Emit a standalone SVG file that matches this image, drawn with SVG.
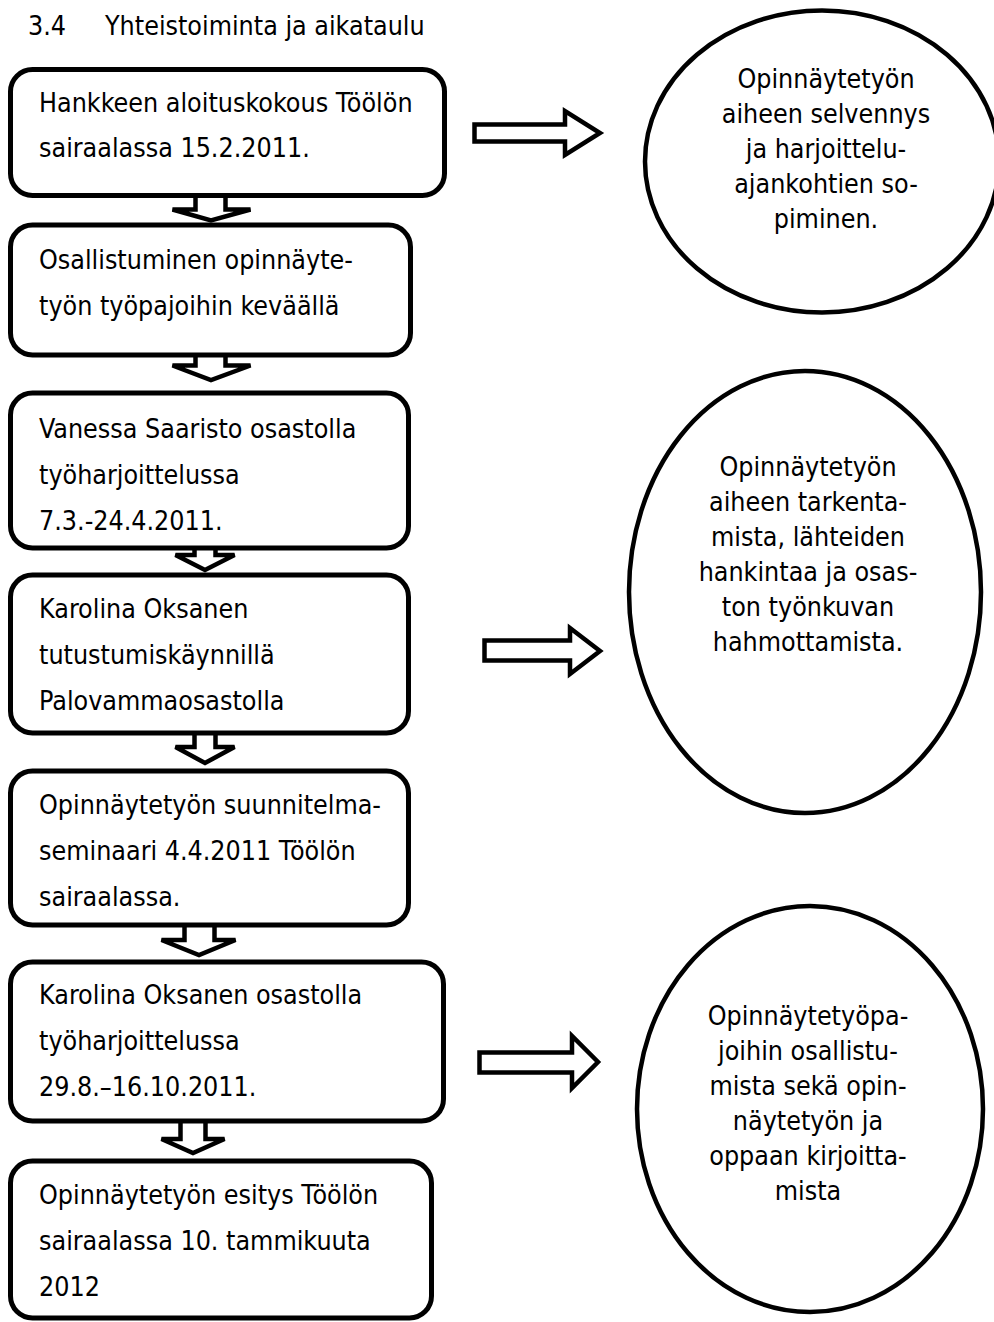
<svg xmlns="http://www.w3.org/2000/svg" width="994" height="1322" viewBox="0 0 994 1322">
<style>
text{font-family:"DejaVu Sans Condensed","DejaVu Sans",sans-serif;font-size:26.6px;fill:#000}
.box{fill:#fff;stroke:#000;stroke-width:5}
.ell{fill:#fff;stroke:#000;stroke-width:4.5}
.arr{fill:#fff;stroke:#000;stroke-width:4.5;stroke-linejoin:miter;stroke-miterlimit:4}
.c{text-anchor:middle}
</style>
<rect width="994" height="1322" fill="#fff"/>
<g id="title">
<text x="28" y="35">3.4</text>
<text x="105" y="35">Yhteistoiminta ja aikataulu</text>
</g>
<g id="connectors">
<path class="arr" d="M195.5,190 V209.5 H172.5 L211,220.5 L250.5,209.5 H225.5 V190"/>
<path class="arr" d="M195.5,350 V365.5 H172.5 L211,380 L250.5,365.5 H225.5 V350"/>
<path class="arr" d="M194.5,543 V555 H175.5 L205,570 L234.5,555 H215.5 V543"/>
<path class="arr" d="M194.5,728 V747 H175.5 L205,763 L234.5,747 H215.5 V728"/>
<path class="arr" d="M184.5,922 V940 H161.5 L199,955 L235.5,940 H214.5 V922"/>
<path class="arr" d="M180.5,1118 V1139 H161.5 L193,1153 L224.5,1139 H205.5 V1118"/>
<path class="arr" d="M474.5,124.5 H565 V111 L600,133 L565,155 V141.5 H474.5 Z"/>
<path class="arr" d="M484.5,640.5 H570 V628 L600,651 L570,674 V660.5 H484.5 Z"/>
<path class="arr" d="M479.5,1052.5 H572 V1036 L598,1062 L572,1088 V1072.5 H479.5 Z"/>
</g>
<g id="n1">
<rect class="box" x="10.5" y="69.5" width="434" height="126" rx="22"/>
<text x="39" y="112">Hankkeen aloituskokous Töölön</text>
<text x="39" y="157">sairaalassa 15.2.2011.</text>
</g>
<g id="n2">
<rect class="box" x="10.5" y="225" width="400" height="130" rx="22"/>
<text x="39" y="269">Osallistuminen opinnäyte-</text>
<text x="39" y="315">työn työpajoihin keväällä</text>
</g>
<g id="n3">
<rect class="box" x="10.5" y="393" width="398" height="155" rx="22"/>
<text x="39" y="438">Vanessa Saaristo osastolla</text>
<text x="39" y="484">työharjoittelussa</text>
<text x="39" y="530">7.3.-24.4.2011.</text>
</g>
<g id="n4">
<rect class="box" x="10.5" y="575" width="398" height="158" rx="22"/>
<text x="39" y="618">Karolina Oksanen</text>
<text x="39" y="664">tutustumiskäynnillä</text>
<text x="39" y="710">Palovammaosastolla</text>
</g>
<g id="n5">
<rect class="box" x="10.5" y="771" width="398" height="154" rx="22"/>
<text x="39" y="814">Opinnäytetyön suunnitelma-</text>
<text x="39" y="860">seminaari 4.4.2011 Töölön</text>
<text x="39" y="906">sairaalassa.</text>
</g>
<g id="n6">
<rect class="box" x="10.5" y="962" width="433" height="159" rx="22"/>
<text x="39" y="1004">Karolina Oksanen osastolla</text>
<text x="39" y="1050">työharjoittelussa</text>
<text x="39" y="1096">29.8.–16.10.2011.</text>
</g>
<g id="n7">
<rect class="box" x="10.5" y="1161" width="421" height="157" rx="22"/>
<text x="39" y="1204">Opinnäytetyön esitys Töölön</text>
<text x="39" y="1250">sairaalassa 10. tammikuuta</text>
<text x="39" y="1296">2012</text>
</g>
<g id="e1">
<ellipse class="ell" cx="822" cy="161.5" rx="177" ry="151"/>
<text class="c" x="826" y="88">Opinnäytetyön</text>
<text class="c" x="826" y="123">aiheen selvennys</text>
<text class="c" x="826" y="158">ja harjoittelu-</text>
<text class="c" x="826" y="193">ajankohtien so-</text>
<text class="c" x="826" y="228">piminen.</text>
</g>
<g id="e2">
<ellipse class="ell" cx="805" cy="592" rx="176" ry="221"/>
<text class="c" x="808" y="476">Opinnäytetyön</text>
<text class="c" x="808" y="511">aiheen tarkenta-</text>
<text class="c" x="808" y="546">mista, lähteiden</text>
<text class="c" x="808" y="581">hankintaa ja osas-</text>
<text class="c" x="808" y="616">ton työnkuvan</text>
<text class="c" x="808" y="651">hahmottamista.</text>
</g>
<g id="e3">
<ellipse class="ell" cx="810" cy="1109" rx="173" ry="203"/>
<text class="c" x="808" y="1025">Opinnäytetyöpa-</text>
<text class="c" x="808" y="1060">joihin osallistu-</text>
<text class="c" x="808" y="1095">mista sekä opin-</text>
<text class="c" x="808" y="1130">näytetyön ja</text>
<text class="c" x="808" y="1165">oppaan kirjoitta-</text>
<text class="c" x="808" y="1200">mista</text>
</g>
</svg>
